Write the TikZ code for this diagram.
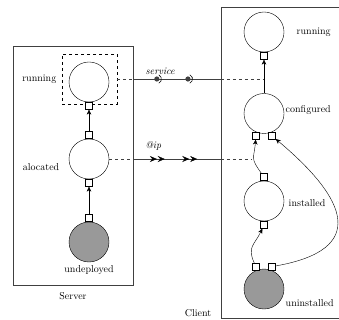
\documentclass[tikz,border=0pt]{standalone}
\usepackage{tikz}
\usetikzlibrary{positioning}
\usetikzlibrary{arrows.meta}
\usetikzlibrary{decorations.markings}

\begin{document}
\begin{tikzpicture}[x=1pt, y=1pt,
		state/.style={draw, circle, minimum size=40pt, inner sep=0pt},
		startstate/.style={state, fill=black!40},
		port/.style={draw, fill=white, minimum size=7pt, inner sep=0pt},
		group/.style={draw=black!75, inner sep=0pt},
		link/.style={black!75, dashed},
		wire/.style={black!75},
		flow/.style={-{Stealth[length=5pt, width=4.5pt, inset=1.5pt]}},
		socket/.style={decoration={markings,
			mark=at position 0.27 with {\fill (0,0) circle[radius=2.6pt]; \draw[black, line width=0.6pt] (65:4.6pt) arc[start angle=65, end angle=-65, radius=4.6pt];},
			mark=at position 0.625 with {\fill (0,0) circle[radius=2.6pt]; \draw[black, line width=0.6pt] (65:4.6pt) arc[start angle=65, end angle=-65, radius=4.6pt];}},
			postaction=decorate},
		pipe/.style={decoration={markings,
			mark=at position 0.27 with {\arrow[black]{Stealth[length=7pt, width=6pt, inset=2.5pt]}},
			mark=at position 0.36 with {\arrow[black]{Stealth[length=7pt, width=6pt, inset=2.5pt]}},
			mark=at position 0.64 with {\arrow[black]{Stealth[length=7pt, width=6pt, inset=2.5pt]}},
			mark=at position 0.73 with {\arrow[black]{Stealth[length=7pt, width=6pt, inset=2.5pt]}}},
			postaction=decorate}]
	\useasboundingbox (0,0) rectangle (339,-320);

	% server side
	\node[group, minimum width=120pt, minimum height=239pt] (server) at (73,-165.5) {};
	\node[below=4pt of server] (serverlbl) {Server};

	\node[state] (srun) at (89,-82) {};
	\node[draw, dashed, minimum width=55pt, minimum height=50pt] (svcbox) at (89.5,-79) {};
	\node[state] (aloc) at (89,-159) {};
	\node[startstate] (undep) at (89,-242) {};

	\node[port, below=0pt of srun] (srun-in) {};
	\node[port, above=0pt of aloc] (aloc-out) {};
	\node[port, below=0pt of aloc] (aloc-in) {};
	\node[port, above=0pt of undep] (undep-out) {};

	\node[left=2pt of svcbox] (srunlbl) {running};
	\node[left=6pt of aloc, yshift=-8pt] (aloclbl) {alocated};
	\node[below=0pt of undep] (undeplbl) {undeployed};

	\draw[flow] (undep-out) -- (aloc-in);
	\draw[flow] (aloc-out) -- (srun-in);

	% client side
	\node[group, minimum width=130pt, minimum height=311pt] (client) at (286,-162.5) {};
	\node[anchor=east, xshift=-6pt, yshift=5pt] (clientlbl) at (client.south west) {Client};

	\node[state] (crun) at (264,-32) {};
	\node[state] (conf) at (264,-113.5) {};
	\node[state] (inst) at (264,-201) {};
	\node[startstate] (uninst) at (264,-289) {};

	\node[port, below=0pt of crun] (crun-in) {};
	\node[port, below=-1.5pt of conf, xshift=-8pt] (conf-l) {};
	\node[port, below=-1.5pt of conf, xshift=8pt] (conf-r) {};
	\node[port, above=0pt of inst] (inst-out) {};
	\node[port, below=0pt of inst] (inst-in) {};
	\node[port, above=-1.5pt of uninst, xshift=-8pt] (uninst-l) {};
	\node[port, above=-1.5pt of uninst, xshift=8pt] (uninst-r) {};

	\node[right=9pt of crun] (crunlbl) {running};
	\node[right=-2pt of conf, yshift=3pt] (conflbl) {configured};
	\node[right=1pt of inst, yshift=-2pt] (instlbl) {installed};
	\node[right=-2pt of uninst, yshift=-14pt] (uninstlbl) {uninstalled};

	\draw[flow] (conf) -- (crun-in);
	\draw[flow] (inst-out) to[out=125, in=-95, looseness=1.5] (conf-l);
	\draw[flow] (uninst-l) to[out=115, in=-115, looseness=1.3] (inst-in);
	\draw[flow] (uninst-r) to[out=10, in=-40, looseness=1.9] (conf-r);

	% links between the two sides
	\coordinate (ipend) at (252,-159);
	\draw[link] (svcbox.east) -- (svcbox.east -| server.east);
	\draw[wire, socket] (svcbox.east -| server.east) -- (svcbox.east -| client.west);
	\draw[link] (svcbox.east -| client.west) -- (svcbox.east -| crun-in);
	\node[above=1pt of svcbox.east -| server.east, xshift=27pt] (svclbl) {\itshape service};

	\draw[link] (aloc) -- (aloc -| server.east);
	\draw[wire, pipe] (aloc -| server.east) -- (aloc -| client.west);
	\draw[link] (aloc -| client.west) -- (ipend);
	\node[above=5pt of aloc -| server.east, xshift=20pt] (iplbl) {\itshape @ip};
\end{tikzpicture}
\end{document}
